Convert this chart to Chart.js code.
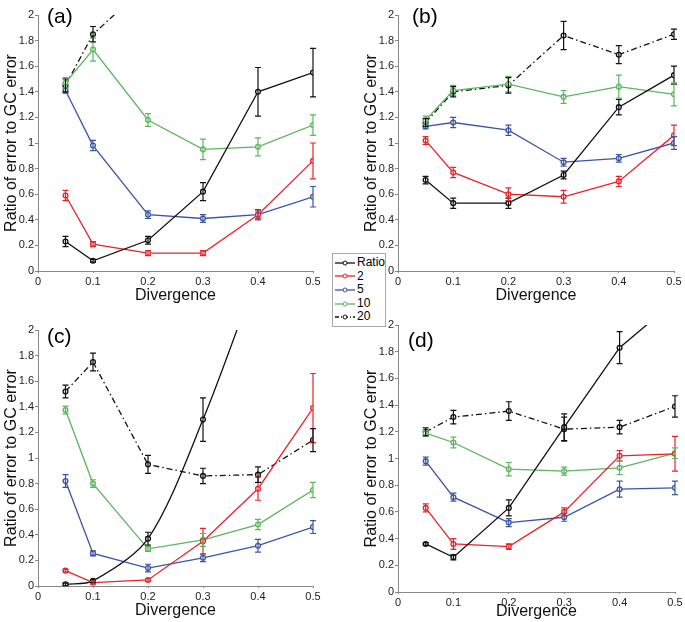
<!DOCTYPE html>
<html>
<head>
<meta charset="utf-8">
<script src="https://cdn.jsdelivr.net/npm/chart.js@4.4.1/dist/chart.umd.min.js"></script>
<style>
  body { margin: 0; background: #fff; width: 685px; height: 622px; position: relative; overflow: hidden;
         font-family: "Liberation Sans", Arial, sans-serif; }
  .panel { position: absolute; }
  #legend { position: absolute; left: 332px; top: 253px; width: 50px; padding: 2px 0 2px 2px;
            border: 1px solid #aaa; background: #fff; z-index: 5; }
  #legend .row { height: 13.6px; line-height: 13.6px; font-size: 12px; color: #000; white-space: nowrap; }
  #legend svg { vertical-align: middle; margin-right: 2px; }
</style>
</head>
<body>
<div class="panel" style="left:0;top:0;width:335px;height:310px"><canvas id="chartA"></canvas></div>
<div class="panel" style="left:360px;top:0;width:325px;height:310px"><canvas id="chartB"></canvas></div>
<div class="panel" style="left:0;top:315px;width:335px;height:307px"><canvas id="chartC"></canvas></div>
<div class="panel" style="left:360px;top:315px;width:325px;height:307px"><canvas id="chartD"></canvas></div>
<div id="legend"></div>
<script>
// x positions and tick labels
const divergence = [0.05, 0.1, 0.2, 0.3, 0.4, 0.5];
const xTickValues = [0, 0.1, 0.2, 0.3, 0.4, 0.5];
const yTickValues = [0, 0.2, 0.4, 0.6, 0.8, 1, 1.2, 1.4, 1.6, 1.8, 2];
const seriesNames = ['Ratio', '2', '5', '10', '20'];
const seriesColors = ['#111111', '#e8242b', '#3a55a5', '#5cb65e', '#111111'];

// panel (a)
const aRatio = [0.23, 0.08, 0.24, 0.62, 1.40, 1.55];
const aRatioErr = [0.04, 0.01, 0.03, 0.07, 0.19, 0.19];
const aTwo = [0.59, 0.21, 0.14, 0.14, 0.44, 0.86];
const aTwoErr = [0.04, 0.02, 0.02, 0.02, 0.03, 0.14];
const aFive = [1.41, 0.98, 0.44, 0.41, 0.44, 0.58];
const aFiveErr = [0.02, 0.04, 0.03, 0.03, 0.04, 0.08];
const aTen = [1.47, 1.73, 1.18, 0.95, 0.97, 1.14];
const aTenErr = [0.04, 0.09, 0.05, 0.08, 0.07, 0.08];
const aTwenty = [1.45, 1.85, 2.24, null, null, null];
const aTwentyErr = [0.05, 0.06, 0, 0, 0, 0];

// panel (b)
const bRatio = [0.71, 0.53, 0.53, 0.75, 1.28, 1.53];
const bRatioErr = [0.03, 0.04, 0.04, 0.03, 0.06, 0.07];
const bTwo = [1.02, 0.77, 0.60, 0.58, 0.70, 1.06];
const bTwoErr = [0.03, 0.04, 0.05, 0.05, 0.04, 0.08];
const bFive = [1.13, 1.16, 1.10, 0.85, 0.88, 1.00];
const bFiveErr = [0.02, 0.04, 0.04, 0.03, 0.03, 0.05];
const bTen = [1.18, 1.41, 1.46, 1.36, 1.44, 1.38];
const bTenErr = [0.03, 0.04, 0.06, 0.05, 0.09, 0.09];
const bTwenty = [1.16, 1.40, 1.45, 1.84, 1.69, 1.85];
const bTwentyErr = [0.03, 0.04, 0.06, 0.11, 0.07, 0.04];

// panel (c)
const cRatio = [0.013, 0.04, 0.37, 1.30, 2.45, null];
const cRatioErr = [0.01, 0.01, 0.05, 0.17, 0, 0];
const cTwo = [0.12, 0.026, 0.047, 0.35, 0.76, 1.39];
const cTwoErr = [0.01, 0.01, 0.01, 0.10, 0.09, 0.27];
const cFive = [0.82, 0.255, 0.14, 0.22, 0.315, 0.46];
const cFiveErr = [0.05, 0.02, 0.03, 0.03, 0.05, 0.05];
const cTen = [1.375, 0.80, 0.29, 0.36, 0.48, 0.75];
const cTenErr = [0.03, 0.03, 0.02, 0.05, 0.04, 0.06];
const cTwenty = [1.52, 1.75, 0.95, 0.86, 0.87, 1.14];
const cTwentyErr = [0.05, 0.07, 0.07, 0.06, 0.06, 0.09];

// panel (d)
const dRatio = [0.36, 0.26, 0.63, 1.235, 1.83, 2.18];
const dRatioErr = [0.01, 0.02, 0.06, 0.10, 0.12, 0];
const dTwo = [0.63, 0.36, 0.34, 0.60, 1.02, 1.035];
const dTwoErr = [0.03, 0.04, 0.02, 0.03, 0.04, 0.13];
const dFive = [0.98, 0.71, 0.52, 0.56, 0.77, 0.78];
const dFiveErr = [0.03, 0.03, 0.03, 0.03, 0.06, 0.05];
const dTen = [1.19, 1.12, 0.92, 0.905, 0.93, 1.04];
const dTenErr = [0.02, 0.04, 0.05, 0.03, 0.05, 0.04];
const dTwenty = [1.20, 1.31, 1.355, 1.22, 1.235, 1.39];
const dTwentyErr = [0.03, 0.05, 0.07, 0.09, 0.05, 0.08];

Chart.defaults.font.family = '"Liberation Sans", Arial, sans-serif';

// vertical error bars with caps, drawn through the chart scales
const errorBars = {
  id: 'errorBars',
  afterDatasetsDraw(chart) {
    const { ctx, chartArea, scales: { x, y } } = chart;
    ctx.save();
    ctx.beginPath();
    ctx.rect(chartArea.left - 5, chartArea.top - 1, chartArea.width + 10, chartArea.height + 2);
    ctx.clip();
    chart.data.datasets.forEach(ds => {
      ds.data.forEach((p, j) => {
        const e = ds.errors[j];
        if (p.y == null || !e) return;
        const px = x.getPixelForValue(p.x);
        const top = y.getPixelForValue(p.y + e);
        const bot = y.getPixelForValue(p.y - e);
        ctx.strokeStyle = ds.borderColor;
        ctx.lineWidth = 1.2;
        ctx.setLineDash([]);
        ctx.beginPath();
        ctx.moveTo(px, top); ctx.lineTo(px, bot);
        ctx.moveTo(px - 3, top); ctx.lineTo(px + 3, top);
        ctx.moveTo(px - 3, bot); ctx.lineTo(px + 3, bot);
        ctx.stroke();
      });
    });
    ctx.restore();
  }
};

const panelLabel = {
  id: 'panelLabel',
  afterDraw(chart, args, opts) {
    const { ctx, chartArea } = chart;
    ctx.save();
    ctx.font = '21px "Liberation Sans", Arial, sans-serif';
    ctx.fillStyle = '#000';
    ctx.textBaseline = 'top';
    ctx.fillText(opts.text, chartArea.left + opts.dx, chartArea.top + opts.dy);
    ctx.restore();
  }
};

function makePanel(id, label, values, errors, cfg) {
  const datasets = values.map((vals, k) => ({
    label: seriesNames[k],
    data: divergence.map((x, i) => ({ x: x, y: vals[i] })),
    errors: errors[k],
    borderColor: seriesColors[k],
    backgroundColor: seriesColors[k],
    borderWidth: 1.3,
    borderDash: k === 4 ? [6, 3, 1.5, 3] : [],
    pointRadius: 2.4,
    pointBorderWidth: 1.3,
    pointBackgroundColor: '#f4f4f4',
    tension: k === 0 ? cfg.ratioTension : 0,
    spanGaps: false
  }));

  new Chart(document.getElementById(id), {
    type: 'line',
    data: { datasets },
    options: {
      responsive: true,
      maintainAspectRatio: false,
      animation: false,
      layout: { padding: { top: cfg.padTop, right: cfg.padRight, left: 0, bottom: 0 } },
      plugins: {
        legend: { display: false },
        tooltip: { enabled: false },
        panelLabel: { text: label, dx: cfg.labelDx, dy: cfg.labelDy }
      },
      scales: {
        x: {
          type: 'linear', min: 0, max: 0.5,
          afterBuildTicks: a => { a.ticks = xTickValues.map(v => ({ value: v })); },
          afterFit: a => { a.height = cfg.xHeight; },
          ticks: { autoSkip: false, maxRotation: 0, padding: 2, color: '#222', font: { size: 11 },
                   callback: v => String(+v.toFixed(1)) },
          grid: { drawOnChartArea: false, drawTicks: true, tickLength: 2, color: '#888' },
          border: { color: '#888', width: 1 },
          title: { display: true, text: 'Divergence', color: '#111', font: { size: 16 },
                   padding: { top: 0, bottom: cfg.titlePad } }
        },
        y: {
          type: 'linear', min: 0, max: 2,
          afterBuildTicks: a => { a.ticks = yTickValues.map(v => ({ value: v })); },
          afterFit: a => { a.width = 38; },
          ticks: { autoSkip: false, padding: 1, color: '#222', font: { size: 11 },
                   callback: v => String(+v.toFixed(1)) },
          grid: { drawOnChartArea: false, drawTicks: true, tickLength: 3, color: '#888' },
          border: { color: '#888', width: 1 },
          title: { display: true, text: 'Ratio of error to GC error', color: '#111', font: { size: 16 },
                   padding: { top: 2, bottom: 0 } }
        }
      }
    },
    plugins: [errorBars, panelLabel]
  });
}

makePanel('chartA', '(a)', [aRatio, aTwo, aFive, aTen, aTwenty],
  [aRatioErr, aTwoErr, aFiveErr, aTenErr, aTwentyErr],
  { padTop: 15, padRight: 22, xHeight: 39, titlePad: 5, labelDx: 9, labelDy: -8, ratioTension: 0 });
makePanel('chartB', '(b)', [bRatio, bTwo, bFive, bTen, bTwenty],
  [bRatioErr, bTwoErr, bFiveErr, bTenErr, bTwentyErr],
  { padTop: 15, padRight: 11, xHeight: 39, titlePad: 5, labelDx: 14, labelDy: -8, ratioTension: 0 });
makePanel('chartC', '(c)', [cRatio, cTwo, cFive, cTen, cTwenty],
  [cRatioErr, cTwoErr, cFiveErr, cTenErr, cTwentyErr],
  { padTop: 15, padRight: 22, xHeight: 36, titlePad: 2, labelDx: 9, labelDy: -3, ratioTension: 0.3 });
makePanel('chartD', '(d)', [dRatio, dTwo, dFive, dTen, dTwenty],
  [dRatioErr, dTwoErr, dFiveErr, dTenErr, dTwentyErr],
  { padTop: 10, padRight: 10, xHeight: 30, titlePad: 1, labelDx: 10, labelDy: 6, ratioTension: 0 });

// legend
const legend = document.getElementById('legend');
seriesNames.forEach((name, k) => {
  const dash = k === 4 ? ' stroke-dasharray="4 2 1 2"' : '';
  legend.insertAdjacentHTML('beforeend',
    '<div class="row"><svg width="20" height="8"><line x1="0" y1="4" x2="20" y2="4" stroke="' + seriesColors[k] +
    '" stroke-width="1.3"' + dash + '/><circle cx="10" cy="4" r="2" fill="#fff" stroke="' + seriesColors[k] +
    '" stroke-width="1"/></svg>' + name + '</div>');
});
</script>
</body>
</html>
